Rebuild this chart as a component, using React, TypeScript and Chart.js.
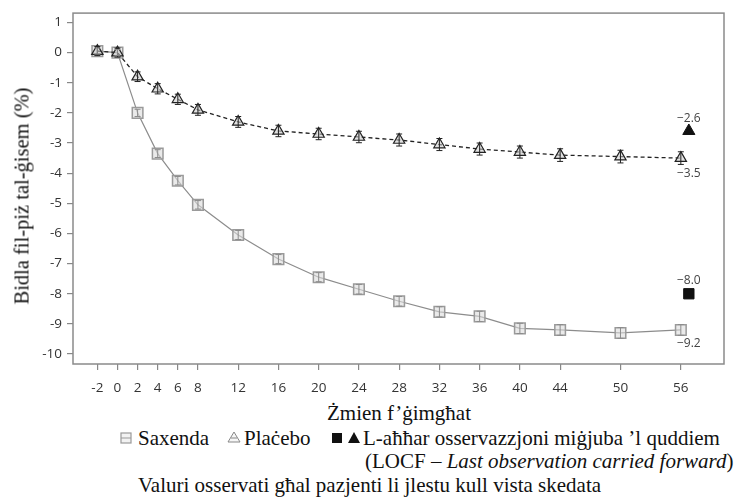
import React, { useEffect, useRef } from "react";
import { Chart, registerables } from "chart.js";

Chart.register(...registerables);

// ---- data ----
const weeks = [-2, 0, 2, 4, 6, 8, 12, 16, 20, 24, 28, 32, 36, 40, 44, 50, 56];
const saxenda = [0.05, 0, -2.0, -3.35, -4.25, -5.05, -6.05, -6.85, -7.45, -7.85, -8.25, -8.6, -8.75, -9.15, -9.2, -9.3, -9.2];
const placebo = [0.05, 0, -0.8, -1.2, -1.55, -1.9, -2.3, -2.6, -2.7, -2.8, -2.9, -3.05, -3.2, -3.3, -3.4, -3.45, -3.5];
const saxendaErr = [0.1, 0.1, 0.12, 0.13, 0.14, 0.14, 0.15, 0.15, 0.15, 0.16, 0.16, 0.17, 0.17, 0.17, 0.18, 0.18, 0.18];
const placeboErr = [0.15, 0.15, 0.16, 0.17, 0.17, 0.18, 0.18, 0.19, 0.19, 0.19, 0.2, 0.2, 0.2, 0.2, 0.21, 0.21, 0.21];
const locfWeek = 56;
const saxendaLocf = -8.0;
const placeboLocf = -2.6;
const xTicks = [-2, 0, 2, 4, 6, 8, 12, 16, 20, 24, 28, 32, 36, 40, 44, 50, 56];
const yTicks = [1, 0, -1, -2, -3, -4, -5, -6, -7, -8, -9, -10];

const SERIF = '"Liberation Serif", "Tinos", "Times New Roman", "DejaVu Serif", "Noto Serif", serif';
const SANS = '"Open Sans", "Noto Sans", sans-serif';

const fmt = (v: number) => v.toFixed(1).replace("-", "\u2212");

const boxPlugin = {
  id: "boxPlugin",
  afterDraw(chart: any) {
    const { ctx, chartArea: a } = chart;
    ctx.save();
    ctx.strokeStyle = "#8a8a8a";
    ctx.lineWidth = 1.5;
    ctx.strokeRect(a.left, a.top, a.right - a.left, a.bottom - a.top);
    ctx.restore();
  },
};

const shiftPlugin = {
  id: "shiftPlugin",
  beforeDatasetDraw(chart: any, args: any) {
    const ds = chart.data.datasets[args.index];
    if (ds.xShift) {
      chart.ctx.save();
      chart.ctx.translate(ds.xShift, 0);
    }
  },
  afterDatasetDraw(chart: any, args: any) {
    const ds = chart.data.datasets[args.index];
    if (ds.xShift) chart.ctx.restore();
  },
};

const errPlugin = {
  id: "errPlugin",
  afterDatasetsDraw(chart: any) {
    const { ctx } = chart;
    const y = chart.scales.y;
    chart.data.datasets.forEach((ds: any, i: number) => {
      if (!ds.errors) return;
      const meta = chart.getDatasetMeta(i);
      ctx.save();
      ctx.strokeStyle = ds.errColor;
      ctx.lineWidth = 1;
      meta.data.forEach((pt: any, j: number) => {
        const v = ds.data[j].y;
        const e = ds.errors[j];
        const y1 = y.getPixelForValue(v + e);
        const y2 = y.getPixelForValue(v - e);
        const x = pt.x;
        ctx.beginPath();
        ctx.moveTo(x, y1);
        ctx.lineTo(x, y2);
        ctx.moveTo(x - 3, y1);
        ctx.lineTo(x + 3, y1);
        ctx.moveTo(x - 3, y2);
        ctx.lineTo(x + 3, y2);
        ctx.stroke();
      });
      ctx.restore();
    });
  },
};

const labelPlugin = {
  id: "labelPlugin",
  afterDatasetsDraw(chart: any) {
    const { ctx } = chart;
    const xs = chart.scales.x;
    const ys = chart.scales.y;
    const lx = xs.getPixelForValue(locfWeek) + 8;
    const lastS = saxenda[saxenda.length - 1];
    const lastP = placebo[placebo.length - 1];
    ctx.save();
    ctx.font = `12px ${SANS}`;
    ctx.fillStyle = "#444";
    ctx.textAlign = "center";
    ctx.textBaseline = "middle";
    ctx.fillText(fmt(placeboLocf), lx, ys.getPixelForValue(placeboLocf) - 12);
    ctx.fillText(fmt(lastP), lx, ys.getPixelForValue(lastP) + 15);
    ctx.fillText(fmt(saxendaLocf), lx, ys.getPixelForValue(saxendaLocf) - 13);
    ctx.fillText(fmt(lastS), lx, ys.getPixelForValue(lastS) + 14);
    ctx.restore();
  },
};

function ChartCanvas() {
  const ref = useRef<HTMLCanvasElement | null>(null);
  useEffect(() => {
    if (!ref.current) return;
    const chart = new Chart(ref.current, {
      type: "line",
      data: {
        datasets: [
          {
            label: "Plaċebo",
            data: weeks.map((w, i) => ({ x: w, y: placebo[i] })),
            borderColor: "#222",
            borderWidth: 1.3,
            borderDash: [4, 3],
            pointStyle: "triangle",
            pointRadius: 6.5,
            pointBackgroundColor: "rgba(200,200,200,0.55)",
            pointBorderColor: "#222",
            pointBorderWidth: 1.2,
            errors: placeboErr,
            errColor: "#222",
            order: 1,
          } as any,
          {
            label: "Saxenda",
            data: weeks.map((w, i) => ({ x: w, y: saxenda[i] })),
            borderColor: "#8c8c8c",
            borderWidth: 1.2,
            pointStyle: "rect",
            pointRadius: 7.5,
            pointBackgroundColor: "rgba(220,220,220,0.6)",
            pointBorderColor: "#9a9a9a",
            pointBorderWidth: 1.5,
            errors: saxendaErr,
            errColor: "#8c8c8c",
            order: 2,
          } as any,
          {
            label: "LOCF Saxenda",
            data: [{ x: locfWeek, y: saxendaLocf }],
            showLine: false,
            pointStyle: "rect",
            pointRadius: 7.3,
            pointBackgroundColor: "#111",
            pointBorderColor: "#111",
            pointBorderWidth: 1,
            xShift: 8,
            order: 0,
          } as any,
          {
            label: "LOCF Plaċebo",
            data: [{ x: locfWeek, y: placeboLocf }],
            showLine: false,
            pointStyle: "triangle",
            pointRadius: 7,
            pointBackgroundColor: "#111",
            pointBorderColor: "#111",
            pointBorderWidth: 1,
            xShift: 8,
            order: 0,
          } as any,
        ],
      },
      options: {
        animation: false,
        responsive: false,
        events: [],
        layout: { padding: { top: 13, right: 15, left: 0, bottom: 0 } },
        plugins: { legend: { display: false }, tooltip: { enabled: false } },
        scales: {
          x: {
            type: "linear",
            min: -4.42,
            max: 60.29,
            afterBuildTicks: (s: any) => {
              s.ticks = xTicks.map((v) => ({ value: v }));
            },
            afterFit: (s: any) => {
              s.height = 36;
            },
            ticks: {
              autoSkip: false,
              maxRotation: 0,
              padding: 10,
              color: "#333",
              font: { family: SANS, size: 13.5 },
              callback: (v: any) => String(v),
            },
            grid: { drawOnChartArea: false, drawTicks: true, tickLength: 6, color: "#888", lineWidth: 1.2 },
            border: { display: false },
          },
          y: {
            type: "linear",
            min: -10.33,
            max: 1.31,
            afterBuildTicks: (s: any) => {
              s.ticks = yTicks.map((v) => ({ value: v }));
            },
            afterFit: (s: any) => {
              s.width = 73;
            },
            ticks: {
              padding: 5,
              color: "#333",
              font: { family: SANS, size: 13.5 },
              callback: (v: any) => String(v),
            },
            grid: { drawOnChartArea: false, drawTicks: true, tickLength: 6, color: "#888", lineWidth: 1.2 },
            border: { display: false },
          },
        },
      } as any,
      plugins: [boxPlugin, shiftPlugin, errPlugin, labelPlugin],
    });
    return () => chart.destroy();
  }, []);
  return <canvas ref={ref} width={739} height={400} style={{ position: "absolute", left: 0, top: 0, width: 739, height: 400 }} />;
}

const textStyle = (left: number, centerY: number, extra: any = {}) => ({
  position: "absolute" as const,
  left,
  top: centerY - 11.5,
  height: 23,
  lineHeight: "23px",
  fontFamily: SERIF,
  fontSize: 21,
  color: "#111",
  whiteSpace: "nowrap" as const,
  ...extra,
});

export default function App() {
  const l1 = 438;
  const l2 = 461;
  const l3 = 485;
  return (
    <div style={{ position: "fixed", left: 0, top: 0, width: 739, height: 499, background: "#fff", overflow: "hidden" }}>
      <ChartCanvas />
      <div
        style={{
          position: "absolute",
          left: 22,
          top: 196,
          transform: "translate(-50%,-50%) rotate(-90deg)",
          fontFamily: SERIF,
          fontSize: 20.5,
          lineHeight: "23px",
          color: "#111",
          whiteSpace: "nowrap",
        }}
      >
        Bidla fil-piż tal-ġisem (%)
      </div>
      <div style={{ ...textStyle(0, 413), width: 798, textAlign: "center" }}>Żmien f’ġimgħat</div>
      <svg style={{ position: "absolute", left: 120, top: l1 - 6 }} width={13} height={13}>
        <rect x={1} y={1} width={10} height={10} fill="#f2f2f2" stroke="#999" strokeWidth={1.2} />
        <line x1={1} y1={6} x2={11} y2={6} stroke="#999" strokeWidth={1} />
      </svg>
      <div style={textStyle(138, l1)}>Saxenda</div>
      <svg style={{ position: "absolute", left: 227, top: l1 - 7 }} width={14} height={13}>
        <polygon points="7,1 13,11 1,11" fill="#f6f6f6" stroke="#888" strokeWidth={1} />
        <line x1={4} y1={7} x2={10} y2={7} stroke="#888" strokeWidth={1} />
      </svg>
      <div style={textStyle(244, l1)}>Plaċebo</div>
      <svg style={{ position: "absolute", left: 331, top: l1 - 6 }} width={12} height={12}>
        <rect x={1} y={1} width={10} height={10} fill="#111" />
      </svg>
      <svg style={{ position: "absolute", left: 347, top: l1 - 7 }} width={14} height={13}>
        <polygon points="7,1 13,12 1,12" fill="#111" />
      </svg>
      <div style={textStyle(363, l1)}>L-aħħar osservazzjoni miġjuba ’l quddiem</div>
      <div style={textStyle(365, l2)}>
        (LOCF – <i>Last observation carried forward</i>)
      </div>
      <div style={textStyle(138, l3)}>Valuri osservati għal pazjenti li jlestu kull vista skedata</div>
    </div>
  );
}
